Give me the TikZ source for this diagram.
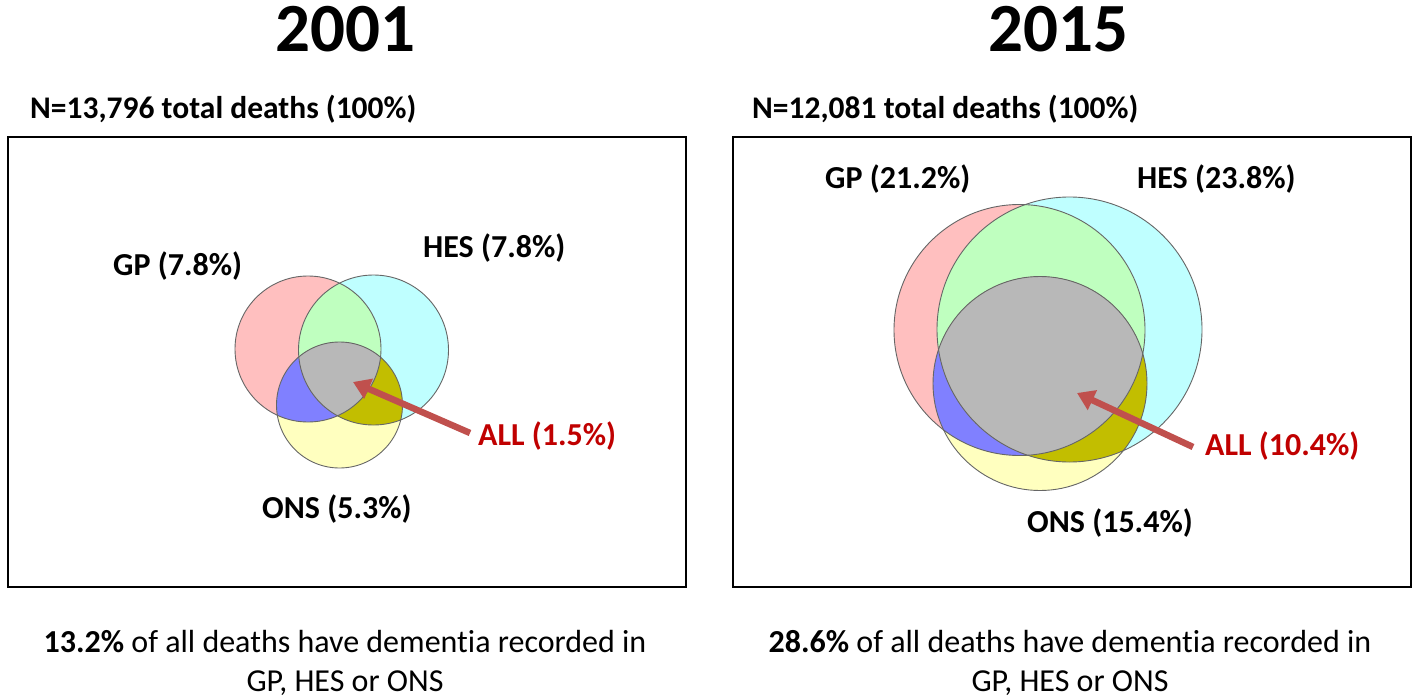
\documentclass[tikz,border=0pt]{standalone}
\usepackage{fontspec}
\setmainfont{Carlito}[Ligatures=NoCommon]
\usetikzlibrary{arrows.meta}
\definecolor{gpc}{HTML}{FFBFBF}
\definecolor{hesc}{HTML}{BFFFFF}
\definecolor{onsc}{HTML}{FFFFBF}
\definecolor{gphes}{HTML}{BFFFBF}
\definecolor{gpons}{HTML}{8080FF}
\definecolor{hesons}{HTML}{C2BE00}
\definecolor{allc}{HTML}{B8B8B8}
\definecolor{arrc}{HTML}{C0504D}
\definecolor{redtxt}{HTML}{C00000}
\tikzset{
  title/.style={font=\fontsize{69}{78}\selectfont\bfseries, inner sep=0pt, anchor=base, text height=44pt, text depth=0pt},
  ntext/.style={font=\fontsize{31.5}{36}\selectfont\bfseries, inner sep=0pt, anchor=base west},
  lab/.style={font=\fontsize{32}{36}\selectfont\bfseries, inner sep=0pt, anchor=base west},
  alllab/.style={lab, text=redtxt},
  foot/.style={font=\fontsize{32}{39}\selectfont, inner sep=0pt, align=center, anchor=north},
  panel/.style={draw=black, line width=1.6pt},
  outline/.style={draw=black!60, line width=0.9pt},
  allarrow/.style={draw=arrc, line width=6.5pt, -{Triangle[width=21pt,length=17pt]}}
}
\newcommand{\venn}[6]{%
  \fill[gpc] #1 circle (#2);
  \fill[hesc] #3 circle (#4);
  \fill[onsc] #5 circle (#6);
  \begin{scope}\clip #1 circle (#2); \fill[gphes] #3 circle (#4); \end{scope}
  \begin{scope}\clip #1 circle (#2); \fill[gpons] #5 circle (#6); \end{scope}
  \begin{scope}\clip #3 circle (#4); \fill[hesons] #5 circle (#6); \end{scope}
  \begin{scope}\clip #1 circle (#2); \clip #3 circle (#4); \fill[allc] #5 circle (#6); \end{scope}
  \draw[outline] #1 circle (#2);
  \draw[outline] #3 circle (#4);
  \draw[outline] #5 circle (#6);
}
\begin{document}
\begin{tikzpicture}[x=1pt,y=-1pt]
\useasboundingbox (0,0) rectangle (1418,698);
% titles
\node[title] (t1) at (345,52) {2001};
\node[title] (t2) at (1058,52) {2015};
\node[ntext] (n1) at (30,118) {N=13,796 total deaths (100\%)};
\node[ntext] (n2) at (752,118) {N=12,081 total deaths (100\%)};
% panels
\draw[panel] (8,137) rectangle (686,587);
\draw[panel] (733,137) rectangle (1411,587);
% venn 2001
\venn{(308,349)}{73}{(373.5,350)}{75}{(339.5,405)}{63}
% venn 2015
\venn{(1019.5,330)}{125.5}{(1069.5,329.5)}{132.5}{(1040,383.5)}{107}
% labels 2001
\node[lab] (gp1) at (113,275) {GP (7.8\%)};
\node[lab] (hes1) at (423,257) {HES (7.8\%)};
\node[lab] (ons1) at (262,518) {ONS (5.3\%)};
\node[alllab] (all1) at (478,445) {ALL (1.5\%)};
% labels 2015
\node[lab] (gp2) at (825,188) {GP (21.2\%)};
\node[lab] (hes2) at (1137,188) {HES (23.8\%)};
\node[lab] (ons2) at (1027,532) {ONS (15.4\%)};
\node[alllab] (all2) at (1205,455) {ALL (10.4\%)};
% arrows
\coordinate (tip1) at (353,382);
\coordinate (tail1) at (470,433);
\coordinate (tip2) at (1077,393);
\coordinate (tail2) at (1193,447);
\draw[allarrow] (tail1) -- (tip1);
\draw[allarrow] (tail2) -- (tip2);
% footers
\node[foot] (f1) at (345,630) {\textbf{13.2\%} of all deaths have dementia recorded in\\GP, HES or ONS};
\node[foot] (f2) at (1070,630) {\textbf{28.6\%} of all deaths have dementia recorded in\\GP, HES or ONS};
\end{tikzpicture}
\end{document}
